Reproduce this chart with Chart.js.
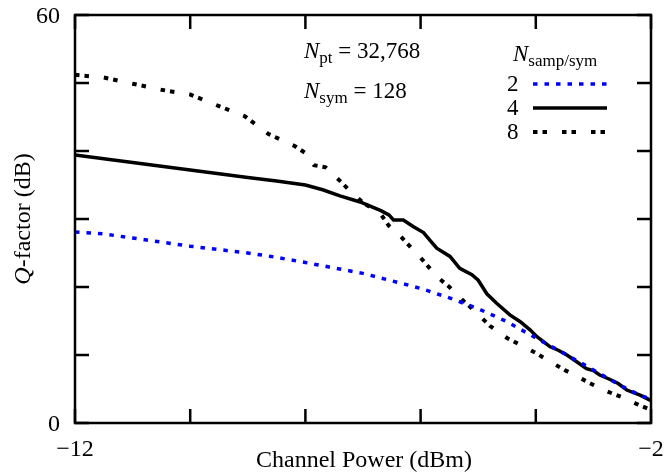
<!DOCTYPE html>
<html>
<head>
<meta charset="utf-8">
<script src="https://cdn.jsdelivr.net/npm/chart.js@4.4.1/dist/chart.umd.min.js"></script>
<style>
  html, body { margin: 0; padding: 0; background: #fff; }
  #wrap { width: 665px; height: 472px; }
</style>
</head>
<body>
<div id="wrap"><canvas id="chart" width="665" height="472"></canvas></div>
<script>
// Q-factor vs channel power for 2, 4 and 8 samples per symbol
const power2 = [-12, -11.5, -11, -10.5, -10, -9.5, -9, -8.6, -8, -7.5, -7, -6.5, -6, -5.5, -5, -4.5, -4, -3.5, -3, -2.5, -2.2, -2];
const qfactor2 = [28.1, 27.8, 27.2, 26.6, 26.0, 25.5, 25.0, 24.5, 23.6, 22.8, 22.0, 20.9, 19.8, 18.4, 16.8, 14.9, 12.5, 10.2, 7.8, 5.4, 4.1, 3.5];

const power4 = [-12, -11, -10, -9, -8.5, -8, -7.7, -7.4, -7.05, -6.68, -6.55, -6.47, -6.3, -6.13, -5.95, -5.84, -5.72, -5.49, -5.32, -5.11, -5.0, -4.85, -4.68, -4.45, -4.27, -4.1, -3.98, -3.75, -3.61, -3.46, -3.29, -3.12, -3.0, -2.89, -2.71, -2.57, -2.42, -2.28, -2.19, -2.0];
const qfactor4 = [39.4, 38.3, 37.2, 36.1, 35.6, 35.0, 34.3, 33.4, 32.5, 31.2, 30.6, 29.85, 29.85, 28.9, 28.0, 26.9, 25.7, 24.5, 22.75, 21.8, 21.0, 19.0, 17.6, 15.9, 14.9, 13.7, 12.7, 11.2, 10.7, 10.0, 9.0, 8.0, 7.7, 7.06, 6.4, 5.8, 4.85, 4.4, 4.1, 3.3];

const power8 = [-12, -11.5, -11, -10.5, -10, -9.5, -9.05, -8.64, -8.18, -8.0, -7.85, -7.65, -7.4, -7.2, -7.0, -6.7, -6.55, -6.33, -6.0, -5.7, -5.5, -5.25, -5.0, -4.8, -4.5, -4.25, -4.0, -3.75, -3.5, -3.25, -3.0, -2.75, -2.5, -2.25, -2.0];
const qfactor8 = [51.2, 50.8, 49.9, 49.0, 48.3, 46.6, 45.1, 42.5, 40.7, 39.7, 37.9, 37.6, 35.6, 33.9, 32.4, 30.8, 29.0, 27.3, 24.3, 21.4, 20.0, 17.9, 16.0, 14.3, 12.5, 11.4, 10.3, 9.0, 7.8, 6.7, 5.6, 4.6, 3.8, 2.8, 1.9];

const seriesNames = ["2", "4", "8"];
const xTicks = [-12, -10, -8, -6, -4, -2];
const yTicks = [0, 10, 20, 30, 40, 50, 60];
const xTickLabels = { "-12": "\u221212", "-2": "\u22122" };
const yTickLabels = { "0": "0", "60": "60" };

const SERIF = '"Liberation Serif", "Times New Roman", serif';

function pts(xs, ys) {
  return xs.map((x, i) => ({ x, y: ys[i] }));
}

// draws runs of text (with optional sub/italic pieces) starting at x
function drawRuns(ctx, runs, x, y) {
  let cx = x;
  for (const r of runs) {
    ctx.font = r.font;
    ctx.fillText(r.text, cx, y + (r.dy || 0));
    cx += ctx.measureText(r.text).width;
  }
  return cx;
}

const framePlugin = {
  id: "frameAndLabels",
  afterDraw(chart) {
    const { ctx, chartArea: a } = chart;
    const xs = chart.scales.x, ys = chart.scales.y;
    const tick = 14;
    const axisFont = "24px " + SERIF;

    ctx.save();
    ctx.strokeStyle = "#000";
    ctx.lineWidth = 2.5;
    ctx.lineCap = "square";
    ctx.strokeRect(a.left, a.top, a.right - a.left, a.bottom - a.top);

    // inward ticks on all four sides
    ctx.lineCap = "butt";
    ctx.beginPath();
    for (const v of xTicks) {
      const px = xs.getPixelForValue(v);
      ctx.moveTo(px, a.bottom); ctx.lineTo(px, a.bottom - tick);
      ctx.moveTo(px, a.top); ctx.lineTo(px, a.top + tick);
    }
    for (const v of yTicks) {
      const py = ys.getPixelForValue(v);
      ctx.moveTo(a.left, py); ctx.lineTo(a.left + tick, py);
      ctx.moveTo(a.right, py); ctx.lineTo(a.right - tick, py);
    }
    ctx.stroke();

    ctx.fillStyle = "#000";
    ctx.font = axisFont;
    ctx.textBaseline = "alphabetic";
    ctx.textAlign = "center";
    for (const v of xTicks) {
      const lbl = xTickLabels[String(v)];
      if (!lbl) continue;
      let px = xs.getPixelForValue(v);
      const w = ctx.measureText(lbl).width;
      px = Math.min(px, chart.width - 1 - w / 2);
      ctx.fillText(lbl, px, a.bottom + 33);
    }
    ctx.textAlign = "right";
    for (const v of yTicks) {
      const lbl = yTickLabels[String(v)];
      if (!lbl) continue;
      ctx.fillText(lbl, a.left - 15, ys.getPixelForValue(v) + 8);
    }

    // axis titles
    ctx.textAlign = "center";
    ctx.fillText("Channel Power (dBm)", (a.left + a.right) / 2 + 1, 467);

    ctx.save();
    ctx.translate(30, (a.top + a.bottom) / 2);
    ctx.rotate(-Math.PI / 2);
    ctx.textAlign = "left";
    ctx.font = "italic " + axisFont;
    const qW = ctx.measureText("Q").width;
    ctx.font = axisFont;
    const restW = ctx.measureText("-factor (dB)").width;
    drawRuns(ctx, [
      { text: "Q", font: "italic " + axisFont },
      { text: "-factor (dB)", font: axisFont }
    ], -(qW + restW) / 2, 0);
    ctx.restore();

    // run parameters
    ctx.textAlign = "left";
    const big = "23px " + SERIF, ital = "italic 23px " + SERIF, sub = "17px " + SERIF;
    drawRuns(ctx, [
      { text: "N", font: ital },
      { text: "pt", font: sub, dy: 5 },
      { text: " = 32,768", font: big }
    ], 304, 58);
    drawRuns(ctx, [
      { text: "N", font: ital },
      { text: "sym", font: sub, dy: 5 },
      { text: " = 128", font: big }
    ], 304, 98);

    // legend
    drawRuns(ctx, [
      { text: "N", font: ital },
      { text: "samp/sym", font: sub, dy: 5 }
    ], 513, 61);

    const rows = [84, 108, 132];
    chart.data.datasets.forEach((ds, i) => {
      const ly = rows[i];
      ctx.font = big;
      ctx.fillStyle = "#000";
      ctx.fillText(seriesNames[i], 507, ly + 7);
      ctx.beginPath();
      ctx.setLineDash(ds.borderDash || []);
      ctx.lineWidth = ds.borderWidth;
      ctx.strokeStyle = ds.borderColor;
      ctx.moveTo(533, ly);
      ctx.lineTo(607, ly);
      ctx.stroke();
    });
    ctx.setLineDash([]);
    ctx.restore();
  }
};

const ctx = document.getElementById("chart").getContext("2d");
new Chart(ctx, {
  type: "scatter",
  data: {
    datasets: [
      {
        label: seriesNames[0],
        data: pts(power2, qfactor2),
        showLine: true,
        borderColor: "#0000ff",
        borderWidth: 3.5,
        borderDash: [4.5, 7],
        borderCapStyle: "butt",
        pointRadius: 0,
        tension: 0
      },
      {
        label: seriesNames[1],
        data: pts(power4, qfactor4),
        showLine: true,
        borderColor: "#000",
        borderWidth: 3.5,
        pointRadius: 0,
        tension: 0
      },
      {
        label: seriesNames[2],
        data: pts(power8, qfactor8),
        showLine: true,
        borderColor: "#000",
        borderWidth: 4,
        borderDash: [4.5, 5, 4.5, 15],
        borderCapStyle: "butt",
        pointRadius: 0,
        tension: 0
      }
    ]
  },
  options: {
    responsive: false,
    animation: false,
    layout: { padding: { left: 75, right: 14, top: 15, bottom: 49 } },
    plugins: {
      legend: { display: false },
      tooltip: { enabled: false }
    },
    scales: {
      x: { type: "linear", min: -12, max: -2, display: false },
      y: { type: "linear", min: 0, max: 60, display: false }
    }
  },
  plugins: [framePlugin]
});
</script>
</body>
</html>
